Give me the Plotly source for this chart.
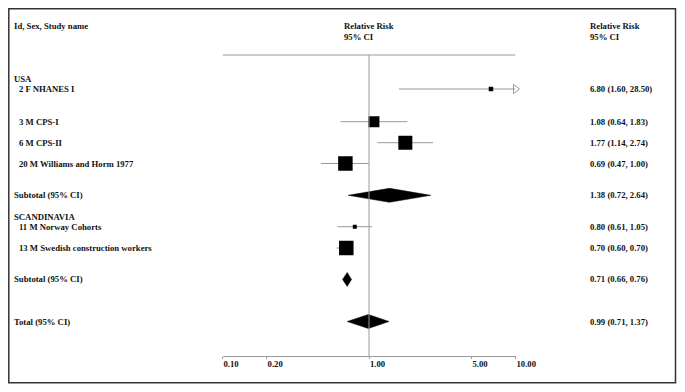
import math
import plotly.graph_objects as go

# ---------------- data ----------------
studies = ["2 F NHANES I", "3 M CPS-I", "6 M CPS-II", "20 M Williams and Horm 1977",
           "11 M Norway Cohorts", "13 M Swedish construction workers"]
rr = [6.80, 1.08, 1.77, 0.69, 0.80, 0.70]
ci_lo = [1.60, 0.64, 1.14, 0.47, 0.61, 0.60]
ci_hi = [28.50, 1.83, 2.74, 1.00, 1.05, 0.70]
box_px = [4.5, 11, 14, 14.5, 4, 14.5]          # square size (study weight)

pooled_labels = ["Subtotal (95% CI)", "Subtotal (95% CI)", "Total (95% CI)"]
pooled_rr = [1.38, 0.71, 0.99]
pooled_lo = [0.72, 0.66, 0.71]
pooled_hi = [2.64, 0.76, 1.37]

groups = ["USA", "SCANDINAVIA"]

tick_vals = [0.1, 0.2, 1, 5, 10]
tick_text = ["0.10", "0.20", "1.00", "5.00", "10.00"]

# ---------------- layout (page pixel rows) ----------------
OFF = 8                      # browser body margin
W, H = 685 - 2 * OFF, 392 - 2 * OFF
study_rows = [89, 121.7, 142.7, 163.5, 226.7, 248]
pooled_rows = [195.3, 279.4, 321.5]
group_rows = [79.3, 216.7]
axis_y, top_y = 356, 55
x_left_px, x_right_px = 222.5, 515.5
xmin, xmax = 0.1, 10

FONT = "Liberation Serif"
TXT = "#111111"
GRAY = "#9a9a9a"


def px(x):
    return (x - OFF) / W


def py(y):
    return (OFF + H - y) / H


fig = go.Figure()

# CI lines
for r, lo, hi, y in zip(rr, ci_lo, ci_hi, study_rows):
    fig.add_trace(go.Scatter(x=[lo, min(hi, xmax)], y=[y, y], mode="lines",
                             line=dict(color=GRAY, width=1), hoverinfo="skip",
                             showlegend=False))
    if hi > xmax:
        fig.add_trace(go.Scatter(x=[xmax], y=[y], mode="markers", cliponaxis=False,
                                 marker=dict(symbol="triangle-right-open", size=8,
                                             color=GRAY, line=dict(color=GRAY, width=1)),
                                 hoverinfo="skip", showlegend=False))

# squares
fig.add_trace(go.Scatter(x=rr, y=study_rows, mode="markers",
                         marker=dict(symbol="square", size=box_px, color="#000000",
                                     opacity=1, line=dict(width=0)),
                         showlegend=False))

# diamonds
for r, lo, hi, y in zip(pooled_rr, pooled_lo, pooled_hi, pooled_rows):
    h = 7
    fig.add_trace(go.Scatter(x=[lo, r, hi, r, lo], y=[y, y - h, y, y + h, y],
                             mode="lines", fill="toself", fillcolor="black",
                             line=dict(color="black", width=0.5), hoverinfo="skip",
                             showlegend=False))

# reference line at 1 and top line
fig.add_shape(type="line", xref="x", yref="y", x0=1, x1=1, y0=top_y, y1=axis_y,
              line=dict(color=GRAY, width=1))
fig.add_shape(type="line", xref="x", yref="y", x0=xmin, x1=xmax, y0=top_y, y1=top_y,
              line=dict(color=GRAY, width=1))
# frame
fig.add_shape(type="rect", xref="paper", yref="paper", x0=px(8.8), x1=px(675.5),
              y0=py(382.8), y1=py(8.8), line=dict(color="#333333", width=1.5))

fs = 8.7


def txt(x, y, s):
    fig.add_annotation(x=px(x), y=y, xref="paper", yref="y", text=s, showarrow=False,
                       xanchor="left", yanchor="middle",
                       font=dict(family=FONT, size=fs, color=TXT, weight="bold"))


# headers
txt(12, 26, "Id, Sex, Study name")
txt(342, 26, "Relative Risk")
txt(342, 37.3, "95% CI")
txt(588, 26, "Relative Risk")
txt(588, 37.3, "95% CI")

for g, y in zip(groups, group_rows):
    txt(12, y, g)
for s, y, r, lo, hi in zip(studies, study_rows, rr, ci_lo, ci_hi):
    txt(17, y, s)
    txt(588, y, f"{r:.2f} ({lo:.2f}, {hi:.2f})")
for s, y, r, lo, hi in zip(pooled_labels, pooled_rows, pooled_rr, pooled_lo, pooled_hi):
    txt(12, y, s)
    txt(588, y, f"{r:.2f} ({lo:.2f}, {hi:.2f})")

fig.update_layout(
    template="none",
    width=W, height=H, margin=dict(l=0, r=0, t=0, b=0, pad=0, autoexpand=False),
    paper_bgcolor="white", plot_bgcolor="white",
    xaxis=dict(type="log", range=[math.log10(xmin), math.log10(xmax)],
               domain=[px(x_left_px), px(x_right_px)], anchor="free",
               position=py(axis_y), showline=True, linecolor=GRAY, linewidth=1,
               ticks="outside", ticklen=2, tickcolor=GRAY, tickvals=tick_vals,
               ticktext=tick_text, ticklabelposition="outside right",
               tickfont=dict(family=FONT, size=fs, color=TXT, weight="bold"),
               showgrid=False, zeroline=False, automargin=False),
    yaxis=dict(range=[OFF + H, OFF], domain=[0, 1], visible=False, showgrid=False,
               zeroline=False, automargin=False),
)

fig.write_html("out.html")
